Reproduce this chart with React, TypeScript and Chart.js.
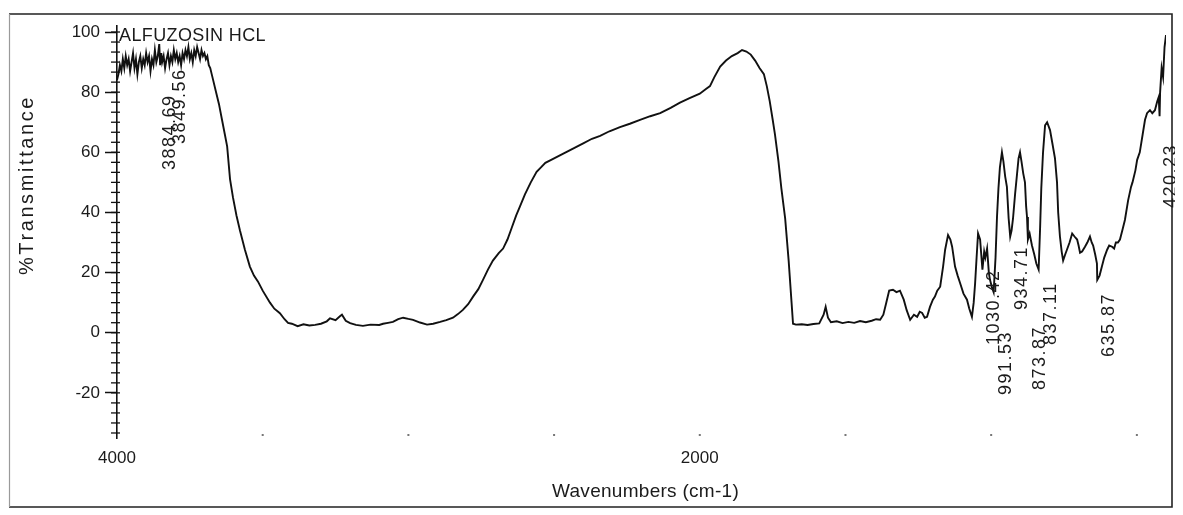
import React, { useEffect, useRef } from "react";
import { Chart, registerables } from "chart.js";

Chart.register(...registerables);

// IR spectrum of the sample: wavenumber (cm-1) against % transmittance
const WAVENUMBERS = [
  4000, 3995, 3990, 3985, 3980, 3975, 3970, 3965, 3960, 3955, 3950, 3945, 3940, 3935, 3930, 3925,
  3920, 3915, 3910, 3905, 3900, 3895, 3890, 3885, 3880, 3875, 3870, 3865, 3860, 3855, 3852, 3848,
  3845, 3840, 3835, 3830, 3825, 3820, 3815, 3810, 3805, 3800, 3795, 3790, 3785, 3780, 3775, 3770,
  3765, 3760, 3755, 3750, 3745, 3740, 3735, 3730, 3725, 3720, 3715, 3710, 3705, 3700, 3695, 3690,
  3685, 3680, 3675, 3670,
  3660, 3650, 3640, 3630, 3622, 3612, 3602, 3590, 3578, 3561, 3544, 3530, 3516, 3500, 3475, 3460,
  3441, 3425, 3413,
  3400, 3380, 3360, 3340, 3320, 3300, 3280, 3269, 3250, 3235, 3228, 3215, 3200, 3180, 3156, 3130,
  3100, 3087, 3070, 3053, 3035, 3018, 3000, 2984, 2960, 2936, 2915, 2891, 2870, 2847, 2830, 2813,
  2795, 2778, 2760, 2744, 2727, 2710, 2690, 2675, 2660, 2645, 2630, 2617, 2600, 2580, 2560, 2545,
  2530, 2510, 2480, 2450, 2430, 2400, 2370, 2342, 2310, 2274, 2240, 2205, 2170, 2136, 2100, 2068,
  2035, 2000, 1980, 1965, 1950, 1930, 1910, 1890, 1870, 1855, 1840, 1825, 1810, 1795, 1780, 1770,
  1760, 1750, 1742, 1730, 1720, 1707, 1695, 1685, 1680, 1670, 1650, 1630, 1610, 1590, 1575, 1568,
  1560, 1550, 1530, 1510, 1490, 1470, 1450, 1430, 1410, 1395, 1381, 1370, 1360, 1350, 1337, 1325,
  1313, 1300, 1290, 1278, 1265, 1254, 1245, 1237, 1228, 1220, 1210, 1200, 1193, 1185, 1175, 1165,
  1158, 1148, 1140, 1134, 1124, 1115, 1107, 1095, 1083, 1075, 1066, 1060, 1055, 1050, 1045, 1038,
  1030, 1024, 1020, 1014, 1008, 1004, 997, 991.5, 985, 980, 975, 970, 963, 958, 952, 946,
  940, 934.7, 930, 925, 918, 911, 906, 901, 896, 890, 884, 880, 877, 873.9, 868, 860,
  852, 845, 837.1, 832, 828, 822, 815, 808, 798, 790, 781, 774, 770, 764, 758, 753,
  746, 740, 731, 722, 714, 705, 700, 695, 688, 678, 670, 661, 655, 650, 643, 637,
  635.9, 628, 620, 612, 602, 595, 585, 578, 572, 565, 558, 550, 541, 530, 520, 515,
  505, 499, 490, 480, 472, 465, 455, 447, 438, 430, 425, 422, 420.2, 415, 410, 405,
  400,
];

const TRANSMITTANCE = [
  84, 86, 89, 87, 91, 88, 92, 89, 91, 87, 90, 93, 88, 91, 86, 90,
  92, 88, 91, 89, 93, 90, 92, 87, 91, 89, 94, 90, 92, 96, 89, 93,
  90, 92, 88, 91, 93, 89, 92, 90, 94, 91, 93, 90, 92, 89, 93, 91,
  94, 92, 95, 91, 93, 90, 94, 92, 95, 93, 91, 94, 92, 93, 91, 92,
  89, 88, 86, 84,
  80, 76, 71, 66, 62, 51, 45, 39, 34, 27.6, 22, 19, 17, 14, 10, 8,
  6.5, 4.5, 3.3,
  3.0, 2.2, 2.8, 2.4, 2.6, 3.0, 3.8, 4.8, 4.2, 5.5, 6.0, 4.0, 3.2, 2.6, 2.3, 2.7,
  2.6, 3.0, 3.3, 3.6, 4.5, 5.0, 4.6, 4.3, 3.4, 2.7, 3.0, 3.6, 4.2, 5.0, 6.2, 7.6,
  9.5, 12, 14.5, 17.6, 21, 24, 26.5, 28, 31, 35, 39, 42, 46, 50, 53.5, 55,
  56.5, 57.5, 59, 60.5, 61.5, 63, 64.5, 65.5, 67, 68.4, 69.5, 70.8, 72, 73, 74.8, 76.5,
  78, 79.5, 81, 82, 85, 88.5, 90.5, 92, 93, 94, 93.5, 92.5, 90.5, 88, 86, 82,
  77, 71, 66, 57, 48, 38, 24, 10, 3, 2.7, 2.8, 2.6, 2.9, 3.1, 6, 8.6,
  5, 3.5, 3.8, 3.2, 3.6, 3.3, 3.9, 3.5, 4.0, 4.5, 4.3, 6, 10, 14, 14.3, 13.5,
  14, 11, 7.5, 4.3, 6, 5.3, 7, 6.6, 5, 5.3, 8.6, 11, 12, 14, 15.3, 22,
  27.6, 32.5, 31, 28.6, 22, 19, 16.6, 13, 11, 8, 5.3, 10, 16.6, 25, 33, 31,
  21, 27, 25, 28, 20, 17.6, 15, 13.5, 25, 38.5, 48, 55, 60, 57, 52, 48.5,
  38, 32, 34, 38, 46, 53, 58, 60, 57, 53, 50, 42, 38.5, 31, 33, 29,
  26, 23, 21, 35, 48, 60, 69, 70, 67.4, 63, 58, 50, 40, 32, 27, 24,
  26, 27.6, 30, 33, 32, 31, 29, 26.6, 27, 28.6, 30, 32, 30, 29, 26, 23,
  17.6, 19, 22, 25, 27.6, 29, 28.6, 28, 30, 30, 31, 34, 37.5, 44, 48.5, 50,
  54, 57.5, 60, 66, 70.8, 73, 74, 73, 74, 77, 78.4, 72, 80, 88, 85, 95,
  99,
];

const Y_TICKS = [100, 80, 60, 40, 20, 0, -20];
const X_TICKS = [4000, 2000];
const X_TICK_DOTS = [3500, 3000, 2500, 2000, 1500, 1000, 500];

const PEAK_LABELS = ["3884.69", "3849.56", "1030.42", "991.53", "934.71", "873.87", "837.11", "635.87", "420.23"];
const PEAK_WAVENUMBERS = [3884.69, 3849.56, 1030.42, 991.53, 934.71, 873.87, 837.11, 635.87, 420.23];

const SAMPLE_NAME = "ALFUZOSIN HCL";
const X_TITLE = "Wavenumbers (cm-1)";
const Y_TITLE = "%Transmittance";

const FONT = "'Liberation Sans', Arial, sans-serif";
const INK = "#1b1b1b";

// placement of each rotated peak label: bottom edge (canvas px) and sideways shift from its band
const PEAK_LABEL_BOTTOM = [162, 136, 337, 387, 302, 382, 337, 349, 200];
const PEAK_LABEL_SHIFT = [19, 19, 12, 12, 12, 12, 12, 12, 11];

function spacedText(
  ctx: CanvasRenderingContext2D,
  text: string,
  x: number,
  y: number,
  size: number,
  target: number
) {
  ctx.font = `${size}px ${FONT}`;
  (ctx as any).letterSpacing = "0px";
  const w = ctx.measureText(text).width;
  const ls = Math.max(0, (target - w) / text.length);
  (ctx as any).letterSpacing = `${ls}px`;
  ctx.fillText(text, x, y);
  (ctx as any).letterSpacing = "0px";
}

const decorPlugin = {
  id: "spectrumDecor",
  afterDraw(chart: any) {
    const { ctx, chartArea, scales } = chart;
    const xs = scales.x;
    const ys = scales.y;
    ctx.save();

    // outer frame
    ctx.lineWidth = 1.6;
    ctx.strokeStyle = "#222";
    ctx.beginPath();
    ctx.moveTo(1, 6);
    ctx.lineTo(1164, 6);
    ctx.lineTo(1164, 499);
    ctx.lineTo(1, 499);
    ctx.stroke();
    ctx.strokeStyle = "#9a9a9a";
    ctx.lineWidth = 1.2;
    ctx.beginPath();
    ctx.moveTo(1.5, 6);
    ctx.lineTo(1.5, 499);
    ctx.stroke();

    // minor ticks on the y axis
    ctx.strokeStyle = "#111";
    ctx.lineWidth = 1.3;
    const step = 20 / 6;
    for (let v = -20 - 4 * step; v <= 102; v += step) {
      const py = ys.getPixelForValue(v);
      if (py < chartArea.top - 0.5 || py > chartArea.bottom + 0.5) continue;
      ctx.beginPath();
      ctx.moveTo(chartArea.left - 6, py);
      ctx.lineTo(chartArea.left + 3, py);
      ctx.stroke();
    }

    // faint tick dots along the wavenumber axis
    ctx.fillStyle = "#777";
    for (const w of X_TICK_DOTS) {
      const px = xs.getPixelForValue(w);
      ctx.fillRect(px - 1, chartArea.bottom - 4, 2, 2);
    }

    ctx.fillStyle = INK;
    ctx.textBaseline = "middle";
    ctx.textAlign = "left";

    // sample name
    spacedText(ctx, SAMPLE_NAME, chartArea.left + 2, 28, 18, 147);

    // axis titles
    spacedText(ctx, X_TITLE, 637 - 93, 484, 19, 187);
    ctx.save();
    ctx.translate(19, 177);
    ctx.rotate(-Math.PI / 2);
    spacedText(ctx, Y_TITLE, -90, 0, 20, 180);
    ctx.restore();

    // peak labels, rotated, beside each picked band
    PEAK_LABELS.forEach((label, i) => {
      const px = xs.getPixelForValue(PEAK_WAVENUMBERS[i]) + PEAK_LABEL_SHIFT[i];
      ctx.save();
      ctx.translate(px, PEAK_LABEL_BOTTOM[i]);
      ctx.rotate(-Math.PI / 2);
      ctx.font = `18px ${FONT}`;
      (ctx as any).letterSpacing = "1.5px";
      ctx.fillText(label, 0, 0);
      (ctx as any).letterSpacing = "0px";
      ctx.restore();
    });

    ctx.restore();
  },
};

export default function App() {
  const canvasRef = useRef<HTMLCanvasElement>(null);

  useEffect(() => {
    if (!canvasRef.current) return;
    const points = WAVENUMBERS.map((w, i) => ({ x: w, y: TRANSMITTANCE[i] }));
    const chart = new Chart(canvasRef.current, {
      type: "line",
      data: {
        datasets: [
          {
            data: points,
            borderColor: "#111",
            borderWidth: 1.9,
            pointRadius: 0,
            tension: 0,
            fill: false,
          },
        ],
      },
      options: {
        responsive: false,
        animation: false,
        layout: { padding: { top: 18, right: 17, left: 0, bottom: 0 } },
        plugins: { legend: { display: false }, tooltip: { enabled: false } },
        scales: {
          x: {
            type: "linear",
            min: 400,
            max: 4000,
            reverse: true,
            afterBuildTicks: (axis: any) => {
              axis.ticks = X_TICKS.map((v) => ({ value: v }));
            },
            afterFit: (axis: any) => {
              axis.height = 70;
            },
            grid: { display: false, drawTicks: false },
            border: { display: false },
            ticks: {
              autoSkip: false,
              maxRotation: 0,
              minRotation: 0,
              padding: 10,
              color: INK,
              font: { family: FONT, size: 17 },
              callback: (v: any) => String(v),
            },
          },
          y: {
            type: "linear",
            min: -35,
            max: 102,
            afterBuildTicks: (axis: any) => {
              axis.ticks = Y_TICKS.map((v) => ({ value: v }));
            },
            afterFit: (axis: any) => {
              axis.width = 109;
            },
            grid: {
              drawOnChartArea: false,
              drawTicks: true,
              tickLength: 12,
              tickWidth: 1.5,
              tickColor: "#111",
            },
            border: { display: true, color: "#111", width: 1.6 },
            ticks: {
              padding: 5,
              color: INK,
              font: { family: FONT, size: 17 },
              callback: (v: any) => String(v),
            },
          },
        },
      },
      plugins: [decorPlugin],
    });
    return () => chart.destroy();
  }, []);

  return <canvas ref={canvasRef} width={1175} height={500} style={{ display: "block" }} />;
}
